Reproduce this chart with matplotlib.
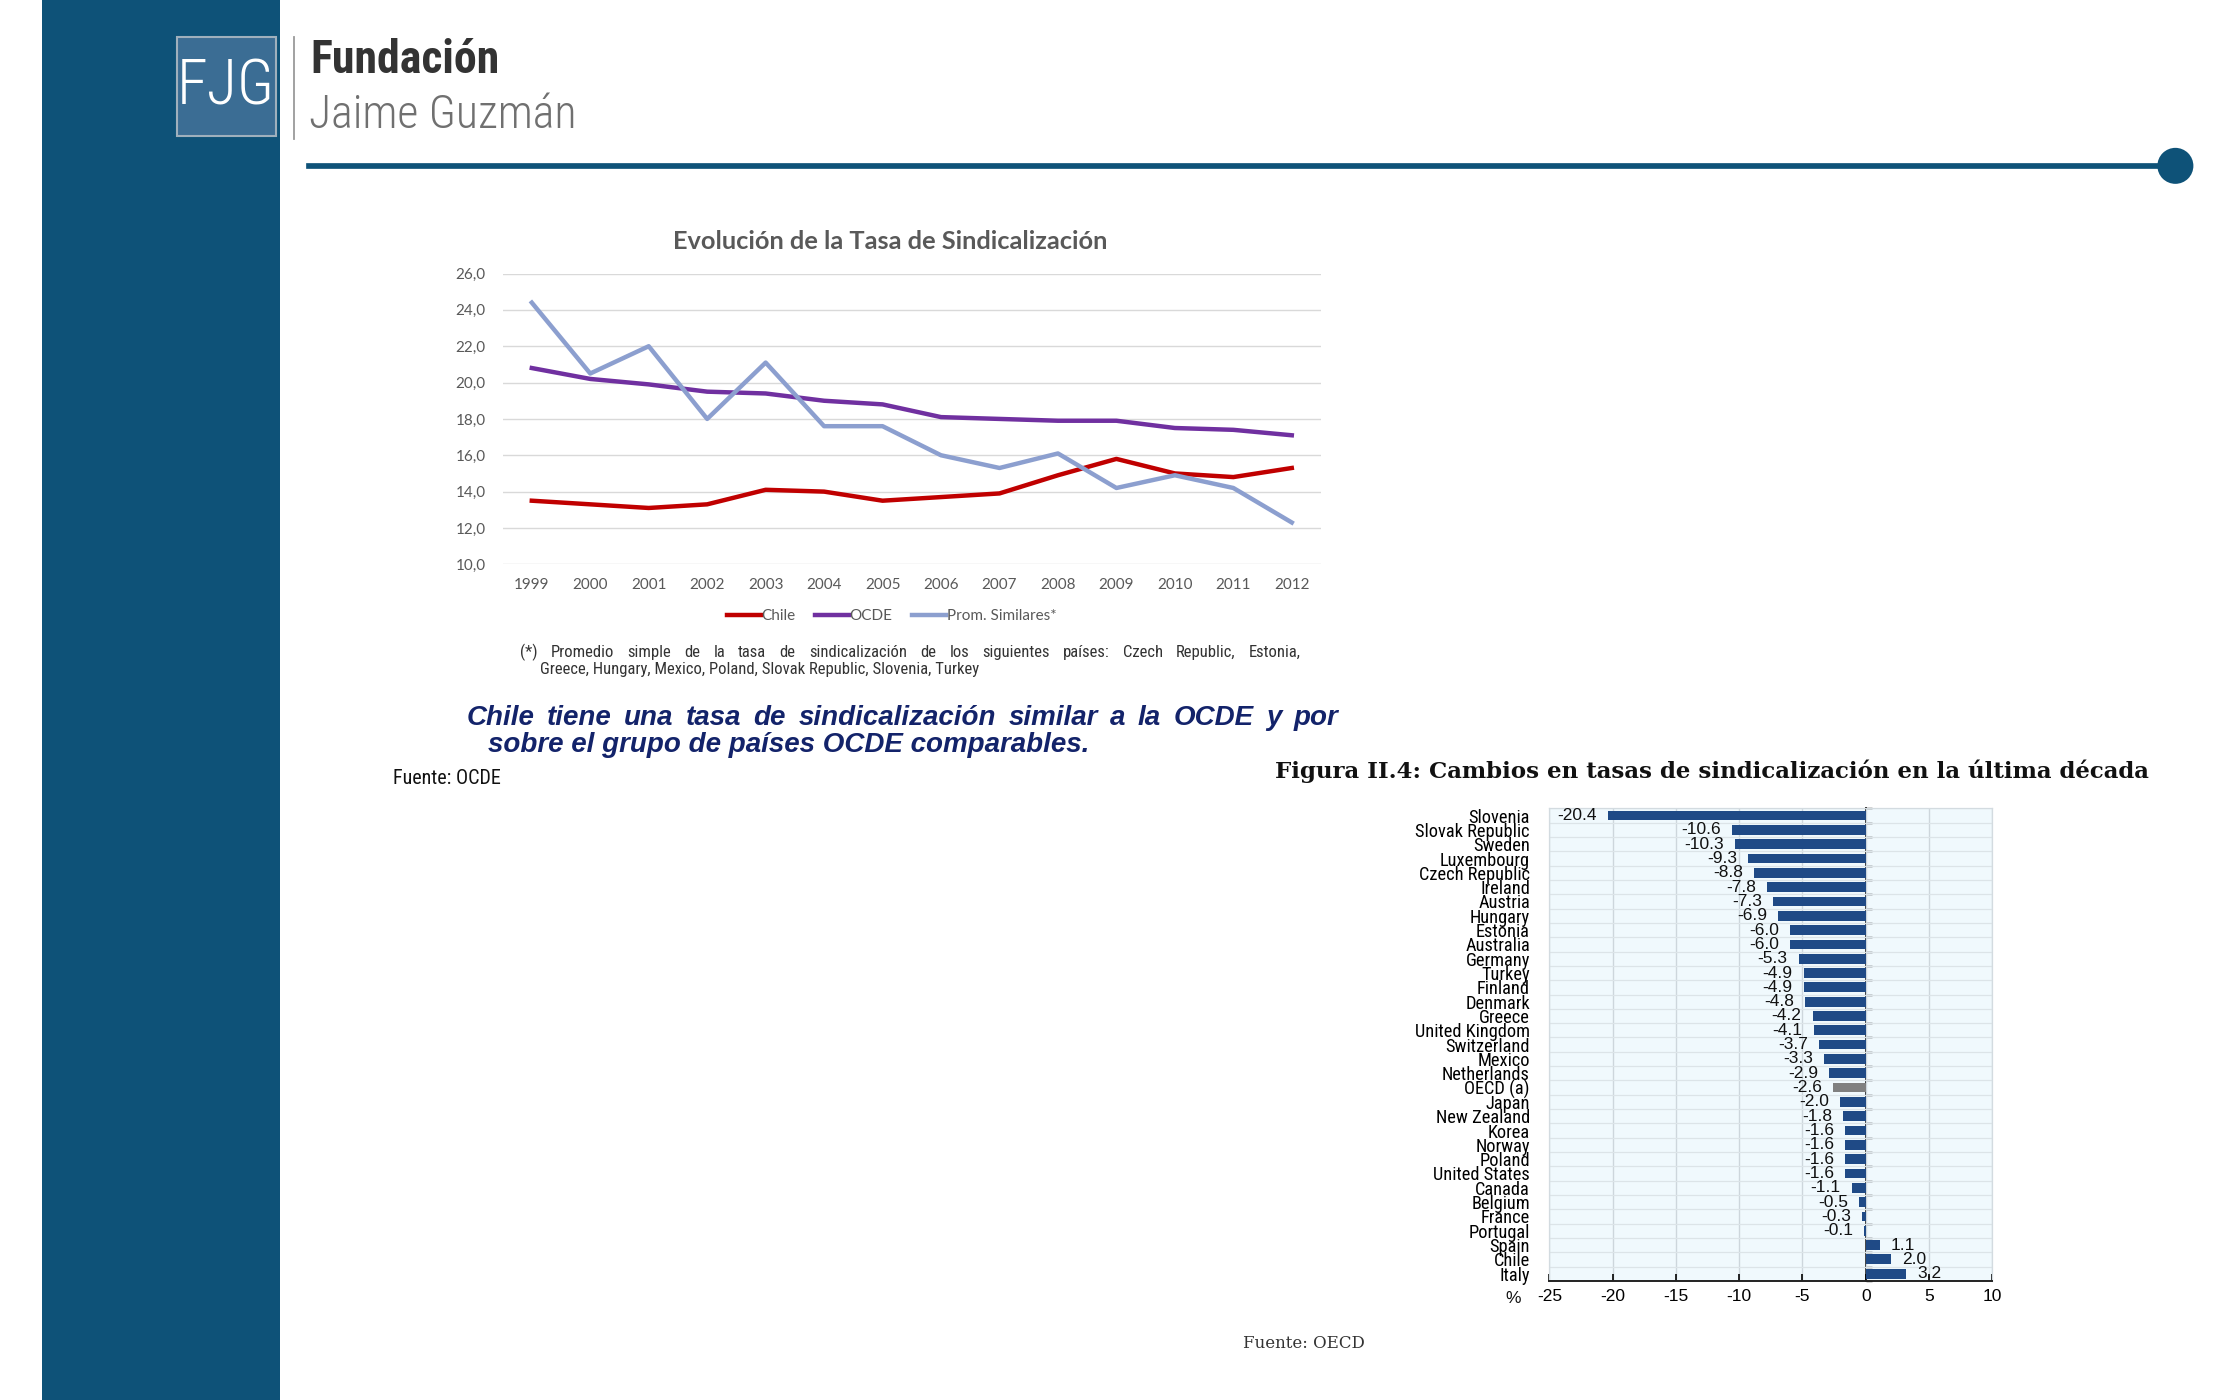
import numpy as np
import matplotlib
matplotlib.use("Agg")
import matplotlib.pyplot as plt
from matplotlib import font_manager as fm
from matplotlib.patches import Rectangle, Ellipse
from matplotlib.lines import Line2D

# ---------------- data ----------------
years = ["1999", "2000", "2001", "2002", "2003", "2004", "2005", "2006",
         "2007", "2008", "2009", "2010", "2011", "2012"]
chile = [13.5, 13.3, 13.1, 13.3, 14.1, 14.0, 13.5, 13.7, 13.9, 14.9, 15.8, 15.0, 14.8, 15.3]
ocde = [20.8, 20.2, 19.9, 19.5, 19.4, 19.0, 18.8, 18.1, 18.0, 17.9, 17.9, 17.5, 17.4, 17.1]
similares = [24.4, 20.5, 22.0, 18.0, 21.1, 17.6, 17.6, 16.0, 15.3, 16.1, 14.2, 14.9, 14.2, 12.3]
line_yticks = [10, 12, 14, 16, 18, 20, 22, 24, 26]

countries = ["Slovenia", "Slovak Republic", "Sweden", "Luxembourg", "Czech Republic",
             "Ireland", "Austria", "Hungary", "Estonia", "Australia", "Germany", "Turkey",
             "Finland", "Denmark", "Greece", "United Kingdom", "Switzerland", "Mexico",
             "Netherlands", "OECD (a)", "Japan", "New Zealand", "Korea", "Norway", "Poland",
             "United States", "Canada", "Belgium", "France", "Portugal", "Spain", "Chile", "Italy"]
changes = [-20.4, -10.6, -10.3, -9.3, -8.8, -7.8, -7.3, -6.9, -6.0, -6.0, -5.3, -4.9,
           -4.9, -4.8, -4.2, -4.1, -3.7, -3.3, -2.9, -2.6, -2.0, -1.8, -1.6, -1.6, -1.6,
           -1.6, -1.1, -0.5, -0.3, -0.1, 1.1, 2.0, 3.2]
bar_xticks = [-25, -20, -15, -10, -5, 0, 5, 10]

# ---------------- fonts ----------------
names = {f.name for f in fm.fontManager.ttflist}
SANS = "Liberation Sans" if "Liberation Sans" in names else "DejaVu Sans"
CAL = "Lato" if "Lato" in names else "DejaVu Sans"

def _w(f):
    w = f.weight
    if isinstance(w, str):
        w = fm.weight_dict.get(w, 400)
    return w

def _is_cond(f):
    return (str(f.stretch) in ("condensed", "semi-condensed", "extra-condensed",
                               "ultra-condensed") or "Narrow" in f.name
            or "Condensed" in f.name or "Condensed" in f.fname)

cond = [f for f in fm.fontManager.ttflist if _is_cond(f) and f.style == "normal"]
pref = ["Liberation Sans Narrow", "Roboto Condensed", "Open Sans Condensed",
        "Noto Sans", "DejaVu Sans"]
def _pick(target):
    cands = list(cond)
    cands.sort(key=lambda f: (pref.index(f.name) if f.name in pref else 99,
                              abs(_w(f) - target)))
    return cands[0].fname if cands else None

_reg, _bold, _light = _pick(400), _pick(700), _pick(300)
if _reg:
    def NP(size, weight="regular"):
        fn = {"regular": _reg, "bold": _bold, "light": _light}[weight]
        return fm.FontProperties(fname=fn, size=size)
else:
    def NP(size, weight="regular"):
        return fm.FontProperties(family="DejaVu Sans", size=size * 0.8,
                                 weight="bold" if weight == "bold" else "normal")

# ---------------- layout helpers (reference layout units) ----------------
LW, LH = 1560.0, 975.0
def fx(x): return x / LW
def fy(y): return 1 - y / LH

fig = plt.figure(figsize=(22.4, 14), dpi=100)
fig.patch.set_facecolor("white")
FW, FH = fig.get_size_inches() * fig.dpi
renderer = fig.canvas.get_renderer()

def justified(text, x0, x1, y, **kw):
    words = text.split(" ")
    arts = [fig.text(0, fy(y), w, ha="left", va="center", **kw) for w in words]
    widths = [a.get_window_extent(renderer).width for a in arts]
    total = (fx(x1) - fx(x0)) * FW
    gap = max((total - sum(widths)) / (len(words) - 1), 4.0)
    pos = fx(x0) * FW
    for a, w in zip(arts, widths):
        a.set_x(pos / FW)
        pos += w + gap

# sidebar
fig.add_artist(Rectangle((fx(29), 0), fx(195) - fx(29), 1, transform=fig.transFigure,
                         facecolor="#0e5278", edgecolor="none", zorder=0))
# logo box
fig.add_artist(Rectangle((fx(123), fy(95)), fx(192) - fx(123), fy(26) - fy(95),
                         transform=fig.transFigure, facecolor="#3b6d94",
                         edgecolor="#9fb0bd", lw=1.5, zorder=2))
fig.text(fx(157.5), fy(61), "FJG", color="white", fontproperties=NP(45, "light"),
         ha="center", va="center", zorder=3)
fig.add_artist(Line2D([fx(205), fx(205)], [fy(26), fy(97)], transform=fig.transFigure,
                      color="#9a9a9a", lw=1.3))
fig.text(fx(216), fy(42), "Fundación", color="#333333", fontproperties=NP(33, "bold"),
         ha="left", va="center")
fig.text(fx(215), fy(80), "Jaime Guzmán", color="#707070", fontproperties=NP(33, "light"),
         ha="left", va="center")

# header rule with circle
fig.add_artist(Line2D([fx(215), fx(1510)], [fy(115.5), fy(115.5)], transform=fig.transFigure,
                      color="#0e5278", lw=4.1))
r = 18
fig.add_artist(Ellipse((fx(1515), fy(115.5)), 2 * r / FW, 2 * r / FH,
                       transform=fig.transFigure, facecolor="#0e5278", edgecolor="none"))

# ---------------- line chart ----------------
ax = fig.add_axes([fx(350), fy(393), fx(920) - fx(350), fy(190.5) - fy(393)])
x = np.arange(len(years))
ax.plot(x, chile, color="#c00000", lw=3.2, label="Chile", zorder=3)
ax.plot(x, ocde, color="#7030a0", lw=3.2, label="OCDE", zorder=3)
ax.plot(x, similares, color="#8c9fcf", lw=3.2, label="Prom. Similares*", zorder=3)
ax.set_xlim(-0.5, len(years) - 0.5)
ax.set_ylim(10, 26)
ax.set_yticks(line_yticks)
ax.set_yticklabels([f"{v:.1f}".replace(".", ",") for v in line_yticks])
ax.set_xticks(x)
ax.set_xticklabels(years)
ax.grid(axis="y", color="#d9d9d9", lw=1)
ax.set_axisbelow(True)
for s in ax.spines.values():
    s.set_visible(False)
ax.tick_params(length=0, labelsize=11, labelcolor="#595959")
ax.tick_params(axis="y", pad=12)
ax.tick_params(axis="x", pad=10)
for t in ax.get_xticklabels() + ax.get_yticklabels():
    t.set_family(CAL)
fig.text(fx(620), fy(168), "Evolución de la Tasa de Sindicalización", ha="center", va="center",
         fontsize=18.3, weight="bold", color="#595959", family=CAL)
leg = ax.legend(loc="center", bbox_to_anchor=(fx(621), fy(429)), bbox_transform=fig.transFigure,
                ncol=3, frameon=False, handlelength=2.2, handletextpad=0.05, columnspacing=1.3,
                prop={"family": CAL, "size": 11})
for t in leg.get_texts():
    t.set_color("#595959")

justified("(*) Promedio simple de la tasa de sindicalización de los siguientes países: Czech Republic, Estonia,",
          362, 906, 454.5, fontproperties=NP(12), color="#333333")
fig.text(fx(376), fy(466.5), "Greece, Hungary, Mexico, Poland, Slovak Republic, Slovenia, Turkey",
         ha="left", va="center", fontproperties=NP(12), color="#333333")

justified("Chile tiene una tasa de sindicalización similar a la OCDE y por", 325, 932, 500,
          fontsize=20, family=SANS, weight="bold", style="italic", color="#13236a")
fig.text(fx(340), fy(519), "sobre el grupo de países OCDE comparables.",
         ha="left", va="center", fontsize=20, family=SANS, weight="bold", style="italic",
         color="#13236a")
fig.text(fx(274), fy(542), "Fuente: OCDE", ha="left", va="center", fontproperties=NP(14.5),
         color="#111111")

# ---------------- bar chart ----------------
fig.text(fx(888), fy(537), "Figura II.4: Cambios en tasas de sindicalización en la última década",
         ha="left", va="center", fontsize=16.5, family="DejaVu Serif", weight="bold",
         color="#111111")

bx = fig.add_axes([fx(1079), fy(892), fx(1387.5) - fx(1079), fy(563) - fy(892)])
n = len(countries)
y = np.arange(n)
colors = ["#808080" if c.startswith("OECD") else "#1f4a86" for c in countries]
bx.barh(y, changes, height=0.68, color=colors, zorder=3)
bx.set_xlim(bar_xticks[0], bar_xticks[-1])
bx.set_ylim(n - 0.5, -0.5)
bx.set_facecolor("#f0f9fd")
bx.set_yticks(y)
bx.set_yticklabels(countries)
bx.set_yticks(np.arange(-0.5, n, 1.0), minor=True)
bx.set_xticks(bar_xticks)
bx.set_xticklabels([str(v) for v in bar_xticks])
bx.grid(axis="x", color="#cdd6dc", lw=1, zorder=1)
bx.grid(axis="y", which="minor", color="#dce4e8", lw=0.9, zorder=1)
bx.grid(axis="y", which="major", visible=False)
bx.tick_params(axis="y", which="both", length=0, pad=14)
bx.tick_params(axis="x", direction="in", length=5, width=1.2, labelsize=12.5, pad=6, top=False)
for t in bx.get_yticklabels():
    t.set_fontproperties(NP(13.2))
for t in bx.get_xticklabels():
    t.set_family(SANS)
for k in ["top", "right", "left"]:
    bx.spines[k].set_color("#d3dbe0")
    bx.spines[k].set_linewidth(0.9)
bx.spines["bottom"].set_color("#222222")
bx.spines["bottom"].set_linewidth(1.4)

# zero axis with row ticks
zero_frac = (0 - bar_xticks[0]) / (bar_xticks[-1] - bar_xticks[0])
sec = bx.secondary_yaxis(zero_frac)
sec.set_yticks(np.arange(-0.5, n, 1.0))
sec.tick_params(axis="y", direction="out", length=4, width=1, labelleft=False,
                labelright=False, color="#222222")
for s in sec.spines.values():
    s.set_visible(False)
sec.spines["left"].set_visible(True)
sec.spines["left"].set_color("#222222")
sec.spines["left"].set_linewidth(1.4)

for yi, v in zip(y, changes):
    off, ha = ((-8, "right") if v < 0 else (8, "left"))
    bx.annotate(f"{v:.1f}", xy=(v, yi), xytext=(off, 0), textcoords="offset points",
                ha=ha, va="center", fontsize=12.5, family=SANS, color="#111111", zorder=4)

fig.text(fx(1054), fy(904.5), "%", ha="center", va="center", fontsize=12.5, family=SANS,
         color="#111111")
fig.text(fx(908), fy(936), "Fuente: OECD", ha="center", va="center", fontsize=12,
         family="DejaVu Serif", color="#333333")

fig.savefig("out.png", dpi=100, facecolor="white")
